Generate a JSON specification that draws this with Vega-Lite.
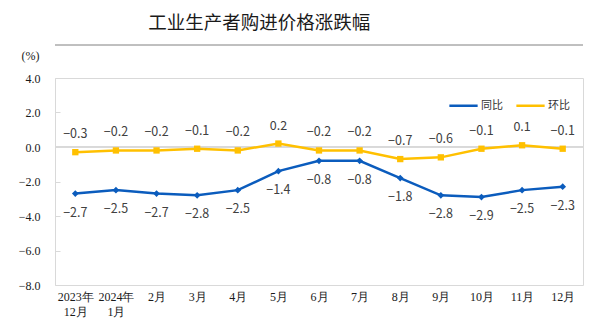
{
  "$schema": "https://vega.github.io/schema/vega-lite/v6.json",
  "width": 528,
  "height": 207,
  "autosize": {"type": "none"},
  "padding": {"left": 55, "top": 78, "right": 17, "bottom": 37},
  "background": "white",
  "config": {
    "view": {"stroke": "#d9d9d9", "strokeWidth": 1},
    "font": "Noto Sans CJK SC"
  },
  "title": {
    "text": "工业生产者购进价格涨跌幅",
    "font": "Noto Sans CJK SC",
    "fontSize": 18.5,
    "fontWeight": "normal",
    "color": "#1a1a1a",
    "anchor": "start",
    "dx": 130,
    "offset": 12
  },
  "data": {
    "values": [
      {"month": "2023年\n12月", "series": "同比", "value": -2.7},
      {"month": "2024年\n1月", "series": "同比", "value": -2.5},
      {"month": "2月", "series": "同比", "value": -2.7},
      {"month": "3月", "series": "同比", "value": -2.8},
      {"month": "4月", "series": "同比", "value": -2.5},
      {"month": "5月", "series": "同比", "value": -1.4},
      {"month": "6月", "series": "同比", "value": -0.8},
      {"month": "7月", "series": "同比", "value": -0.8},
      {"month": "8月", "series": "同比", "value": -1.8},
      {"month": "9月", "series": "同比", "value": -2.8},
      {"month": "10月", "series": "同比", "value": -2.9},
      {"month": "11月", "series": "同比", "value": -2.5},
      {"month": "12月", "series": "同比", "value": -2.3},
      {"month": "2023年\n12月", "series": "环比", "value": -0.3},
      {"month": "2024年\n1月", "series": "环比", "value": -0.2},
      {"month": "2月", "series": "环比", "value": -0.2},
      {"month": "3月", "series": "环比", "value": -0.1},
      {"month": "4月", "series": "环比", "value": -0.2},
      {"month": "5月", "series": "环比", "value": 0.2},
      {"month": "6月", "series": "环比", "value": -0.2},
      {"month": "7月", "series": "环比", "value": -0.2},
      {"month": "8月", "series": "环比", "value": -0.7},
      {"month": "9月", "series": "环比", "value": -0.6},
      {"month": "10月", "series": "环比", "value": -0.1},
      {"month": "11月", "series": "环比", "value": 0.1},
      {"month": "12月", "series": "环比", "value": -0.1}
    ]
  },
  "encoding": {
    "x": {
      "field": "month",
      "type": "ordinal",
      "sort": null,
      "scale": {"type": "point", "padding": 0.5},
      "axis": {
        "title": null,
        "domain": false,
        "ticks": false,
        "labelAngle": 0,
        "labelFont": "Liberation Serif",
        "labelFontSize": 12,
        "labelColor": "#1a1a1a",
        "labelPadding": 6,
        "labelExpr": "split(datum.value, '\\n')",
        "labelLineHeight": 15
      }
    },
    "y": {
      "field": "value",
      "type": "quantitative",
      "scale": {"domain": [-8, 4], "nice": false, "zero": false},
      "axis": {
        "title": "(%)",
        "titleAngle": 0,
        "titleFont": "Liberation Serif",
        "titleFontSize": 12,
        "titleFontWeight": "normal",
        "titleColor": "#1a1a1a",
        "titleAlign": "left",
        "titleX": -34,
        "titleY": -16,
        "values": [-8, -6, -4, -2, 0, 2, 4],
        "format": ".1f",
        "labelFont": "Liberation Serif",
        "labelFontSize": 12,
        "labelColor": "#1a1a1a",
        "domain": false,
        "grid": false,
        "ticks": true,
        "tickColor": "#d9d9d9",
        "tickSize": -5,
        "labelPadding": 20
      }
    }
  },
  "layer": [
    {
      "mark": {"type": "rule", "color": "#bfbfbf", "strokeWidth": 1.5, "clip": false},
      "encoding": {"y": {"datum": 5.9}, "x": null}
    },
    {
      "mark": {"type": "rule", "color": "#d9d9d9", "strokeWidth": 1},
      "encoding": {"y": {"datum": 0}, "x": null}
    },
    {
      "mark": {"type": "line", "strokeWidth": 2.5},
      "encoding": {
        "color": {
          "field": "series",
          "type": "nominal",
          "sort": ["同比", "环比"],
          "scale": {"domain": ["同比", "环比"], "range": ["#0b5cbd", "#ffc000"]},
          "legend": {
            "title": null,
            "orient": "none",
            "legendX": 393,
            "legendY": 12,
            "direction": "horizontal",
            "symbolType": "stroke",
            "symbolSize": 800,
            "symbolStrokeWidth": 2.5,
            "labelFont": "Noto Sans CJK SC",
            "labelFontSize": 11,
            "labelColor": "#333333",
            "labelOffset": 2,
            "columnPadding": 8
          }
        }
      }
    },
    {
      "transform": [{"filter": "datum.series === '同比'"}],
      "mark": {"type": "point", "filled": true, "size": 45, "opacity": 1, "shape": "diamond", "color": "#0b5cbd"}
    },
    {
      "transform": [{"filter": "datum.series === '环比'"}],
      "mark": {"type": "point", "filled": true, "size": 40, "opacity": 1, "shape": "square", "color": "#ffc000"}
    },
    {
      "transform": [{"filter": "datum.series === '环比'"}],
      "mark": {"type": "text", "dy": -18, "fontSize": 12.5, "color": "#404040", "font": "Noto Sans CJK SC"},
      "encoding": {"text": {"field": "value", "type": "quantitative", "format": ".1f"}}
    },
    {
      "transform": [{"filter": "datum.series === '同比'"}],
      "mark": {"type": "text", "dy": 19, "fontSize": 12.5, "color": "#404040", "font": "Noto Sans CJK SC"},
      "encoding": {"text": {"field": "value", "type": "quantitative", "format": ".1f"}}
    }
  ]
}
